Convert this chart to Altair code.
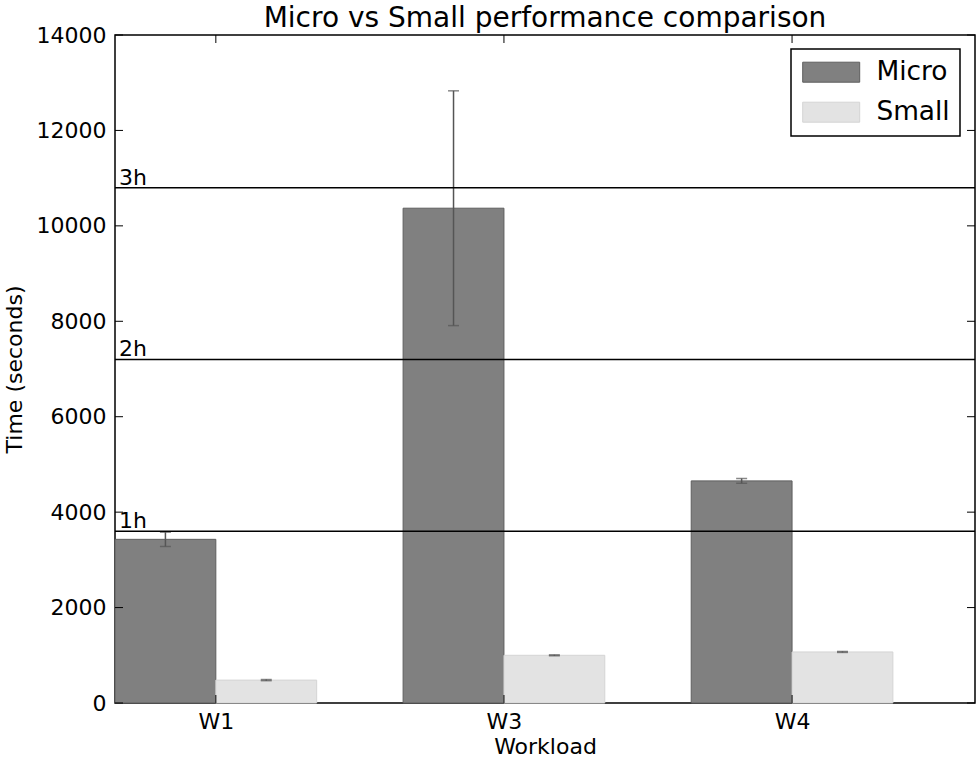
import json

import altair as alt
import pandas as pd

# Workload categories and measured run times (seconds)
workloads = ["W1", "W3", "W4"]
micro_mean = [3430, 10370, 4655]
micro_err = [150, 2460, 50]
small_mean = [480, 1000, 1070]
small_err = [12, 10, 10]

# Reference lines at whole hours
hour_values = [3600, 7200, 10800]
hour_labels = ["1h", "2h", "3h"]

# Y tick positions
y_ticks = [0, 2000, 4000, 6000, 8000, 10000, 12000, 14000]

configs = ["Micro", "Small"]
colors = ["#808080", "#e3e3e3"]
bar_width = 0.35
x_max = 2.985

W, H = 860, 668
FONT = "DejaVu Sans"

rows = []
for i, w in enumerate(workloads):
    rows.append(dict(workload=w, config="Micro", x0=i, x1=i + bar_width,
                     mean=micro_mean[i], err=micro_err[i]))
    rows.append(dict(workload=w, config="Small", x0=i + bar_width, x1=i + 2 * bar_width,
                     mean=small_mean[i], err=small_err[i]))
bars_df = pd.DataFrame(rows)
bars_df["xc"] = (bars_df["x0"] + bars_df["x1"]) / 2
bars_df["lo"] = bars_df["mean"] - bars_df["err"]
bars_df["hi"] = bars_df["mean"] + bars_df["err"]

tick_x = [i + bar_width for i in range(len(workloads))]
hours_df = pd.DataFrame({"value": hour_values, "label": hour_labels, "x": [0] * len(hour_values)})
yticks_df = pd.DataFrame({"y": y_ticks})
xticks_df = pd.DataFrame({"x": tick_x})

xscale = alt.Scale(domain=[0, x_max], nice=False, zero=False)
yscale = alt.Scale(domain=[0, 14000], nice=False)

label_expr = "%s[round(datum.value - %s)]" % (json.dumps(workloads), bar_width)

x_axis = alt.Axis(values=tick_x, labelExpr=label_expr, title="Workload",
                  labelFontSize=22, titleFontSize=22, tickSize=0, domain=False,
                  grid=False, labelPadding=8, titlePadding=4)
y_axis = alt.Axis(values=y_ticks, format="d", title="Time (seconds)",
                  labelFontSize=22, titleFontSize=22, tickSize=0, domain=False,
                  grid=False, labelPadding=9, titlePadding=10)

bars = alt.Chart(bars_df).mark_bar(strokeWidth=1, opacity=1).encode(
    x=alt.X("x0:Q", scale=xscale, axis=x_axis),
    x2="x1:Q",
    y=alt.Y("mean:Q", scale=yscale, axis=y_axis),
    y2=alt.datum(0),
    color=alt.Color(
        "config:N",
        scale=alt.Scale(domain=configs, range=colors),
        legend=alt.Legend(
            title=None, orient="none", legendX=676, legendY=14,
            padding=10, strokeColor="black", fillColor="white",
            symbolType="M-2.85,-1H2.85V1H-2.85Z", symbolSize=400,
            symbolStrokeWidth=1, symbolOffset=17, labelOffset=32,
            labelFontSize=26.4, labelFont=FONT, labelColor="black",
            rowPadding=13, symbolOpacity=1,
        ),
    ),
    stroke=alt.Stroke("config:N", scale=alt.Scale(domain=configs, range=["#5e5e5e", "#d4d4d4"]),
                      legend=None),
)

err_line = alt.Chart(bars_df).mark_rule(color="#555555", strokeWidth=1.5).encode(
    x=alt.X("xc:Q", scale=xscale), y=alt.Y("lo:Q", scale=yscale), y2="hi:Q"
)
err_cap_hi = alt.Chart(bars_df).mark_tick(color="#555555", orient="horizontal",
                                          size=11, thickness=1.5).encode(
    x=alt.X("xc:Q", scale=xscale), y=alt.Y("hi:Q", scale=yscale)
)
err_cap_lo = alt.Chart(bars_df).mark_tick(color="#555555", orient="horizontal",
                                          size=11, thickness=1.5).encode(
    x=alt.X("xc:Q", scale=xscale), y=alt.Y("lo:Q", scale=yscale)
)

hour_rules = alt.Chart(hours_df).mark_rule(color="black", strokeWidth=1.5).encode(
    y=alt.Y("value:Q", scale=yscale), x=alt.value(0), x2=alt.value(W)
)
hour_text = alt.Chart(hours_df).mark_text(
    align="left", baseline="alphabetic", dx=4, dy=-3, fontSize=22, font=FONT, color="black"
).encode(
    x=alt.X("x:Q", scale=xscale), y=alt.Y("value:Q", scale=yscale), text="label:N"
)

# Inward-facing ticks on all four sides
tick_style = dict(color="black", strokeWidth=1)
left_ticks = alt.Chart(yticks_df).mark_rule(**tick_style).encode(
    y=alt.Y("y:Q", scale=yscale), x=alt.value(0), x2=alt.value(8))
right_ticks = alt.Chart(yticks_df).mark_rule(**tick_style).encode(
    y=alt.Y("y:Q", scale=yscale), x=alt.value(W - 8), x2=alt.value(W))
bottom_ticks = alt.Chart(xticks_df).mark_rule(**tick_style).encode(
    x=alt.X("x:Q", scale=xscale), y=alt.value(H - 8), y2=alt.value(H))
top_ticks = alt.Chart(xticks_df).mark_rule(**tick_style).encode(
    x=alt.X("x:Q", scale=xscale), y=alt.value(0), y2=alt.value(8))

chart = alt.layer(
    bars, err_line, err_cap_hi, err_cap_lo, hour_rules, hour_text,
    left_ticks, right_ticks, bottom_ticks, top_ticks,
).properties(
    width=W, height=H,
    title=alt.Title("Micro vs Small performance comparison", fontSize=28,
                    font=FONT, fontWeight="normal", color="black", offset=6, dy=15),
    autosize=alt.AutoSizeParams(type="none"),
    padding={"left": 115, "top": 35, "right": 5, "bottom": 61},
    background="white",
).configure_view(
    stroke="black", strokeWidth=1.5
).configure_axis(
    labelFont=FONT, titleFont=FONT, labelColor="black", titleColor="black",
    titleFontWeight="normal"
).configure_legend(
    strokeWidth=1.5
)

chart.save("out.html", embed_options={"renderer": "svg", "actions": False})
